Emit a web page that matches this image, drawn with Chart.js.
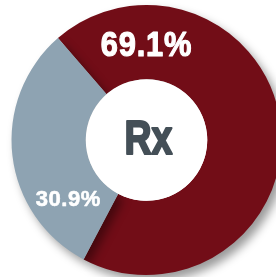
<!DOCTYPE html>
<html>
<head>
<meta charset="utf-8">
<script src="https://cdn.jsdelivr.net/npm/chart.js@4.4.1/dist/chart.umd.min.js"></script>
<style>
    html, body { margin: 0; padding: 0; background: #ffffff; overflow: hidden; }
    #wrap { position: absolute; left: 0; top: 0; width: 293px; height: 277px; }
</style>
</head>
<body>
<div id="wrap"><canvas id="rxChart"></canvas></div>
<script>
const categories = ['Rx', 'Other'];
const shares = [69.1, 30.9];
const shareLabels = ['69.1%', '30.9%'];
const centerLabel = 'Rx';

const sliceColors = ['#720d17', '#8ea3b2'];

// squeezed heavy text, helvetica condensed look
function drawText(ctx, txt, x, y, font, squeeze, spacing, weight) {
    ctx.save();
    ctx.translate(x, y);
    ctx.scale(squeeze, 1);
    ctx.font = font;
    ctx.letterSpacing = spacing;
    ctx.textAlign = 'center';
    ctx.textBaseline = 'middle';
    ctx.fillText(txt, 0, 0);
    if (weight > 0) {
        ctx.strokeStyle = ctx.fillStyle;
        ctx.lineWidth = weight;
        ctx.lineJoin = 'round';
        ctx.strokeText(txt, 0, 0);
    }
    ctx.restore();
}

// drop shadow under the ring, then white hole and the texts on top
const ringDecor = {
    id: 'ringDecor',
    beforeDatasetsDraw(chart) {
        const ctx = chart.ctx;
        ctx.save();
        ctx.shadowColor = 'rgba(0, 0, 0, 0.4)';
        ctx.shadowBlur = 10;
        ctx.shadowOffsetX = 5;
        ctx.shadowOffsetY = 6;
    },
    afterDatasetsDraw(chart, args, opts) {
        const ctx = chart.ctx;
        ctx.restore();
        const arcs = chart.getDatasetMeta(0).data;
        const cx = arcs[0].x;
        const cy = arcs[0].y;
        const inner = arcs[0].innerRadius;
        const outer = arcs[0].outerRadius;

        ctx.save();
        ctx.beginPath();
        ctx.arc(cx, cy, inner, 0, Math.PI * 2);
        ctx.fillStyle = '#ffffff';
        ctx.fill();

        ctx.fillStyle = '#444f57';
        drawText(ctx, centerLabel, cx + 2, cy + 1, "bold 48px 'Liberation Sans', Arial, sans-serif", 0.78, '0px', 2.2);

        const mid = (inner + outer) / 2;
        shareLabels.forEach((txt, i) => {
            const a = (opts.labelAngles[i] - 90) * Math.PI / 180;
            ctx.fillStyle = '#ffffff';
            drawText(ctx, txt, cx + Math.cos(a) * mid, cy + Math.sin(a) * mid + opts.labelShift[i],
                opts.labelFonts[i], opts.labelSqueeze[i], opts.labelSpacing[i], opts.labelWeight[i]);
        });
        ctx.restore();
    }
};

new Chart(document.getElementById('rxChart'), {
    type: 'doughnut',
    data: {
        labels: categories,
        datasets: [{
            data: shares,
            backgroundColor: sliceColors,
            borderWidth: 0,
            hoverOffset: 0
        }]
    },
    options: {
        responsive: true,
        maintainAspectRatio: false,
        animation: false,
        rotation: -41,
        cutout: '45%',
        layout: { padding: { top: 5, bottom: 2, left: 0, right: 0 } },
        plugins: {
            legend: { display: false },
            tooltip: { enabled: false },
            ringDecor: {
                labelAngles: [0, 233],
                labelShift: [4, 1],
                labelSqueeze: [0.88, 1],
                labelSpacing: ['1px', '0.6px'],
                labelWeight: [1.2, 0.6],
                labelFonts: [
                    "bold 35px 'Liberation Sans', Arial, sans-serif",
                    "bold 22px 'Liberation Sans', Arial, sans-serif"
                ]
            }
        }
    },
    plugins: [ringDecor]
});
</script>
</body>
</html>
